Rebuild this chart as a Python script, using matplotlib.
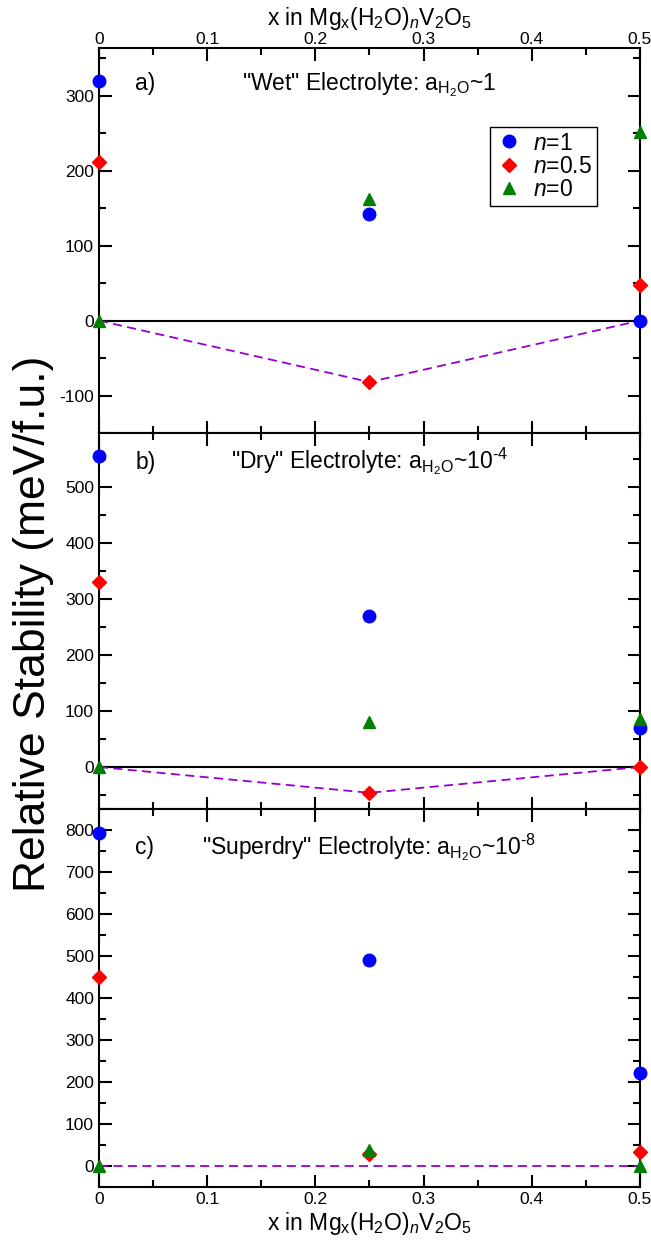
import numpy as np
import matplotlib
matplotlib.use("Agg")
import matplotlib.pyplot as plt
from matplotlib.ticker import MultipleLocator

plt.rcParams['font.family'] = ['Liberation Sans', 'DejaVu Sans']
plt.rcParams['mathtext.fontset'] = 'custom'
plt.rcParams['mathtext.rm'] = 'Liberation Sans'
plt.rcParams['mathtext.it'] = 'Liberation Sans:italic'
plt.rcParams['mathtext.default'] = 'regular'
plt.rcParams['axes.unicode_minus'] = False

# composition x
x_vals = [0.0, 0.25, 0.5]

# panel a) wet
wet_n1 = [320, 143, 0]
wet_n05 = [212, -82, 48]
wet_n0 = [0, 162, 252]
wet_hull = [0, -82, 0]

# panel b) dry
dry_n1 = [555, 270, 70]
dry_n05 = [330, -46, 0]
dry_n0 = [0, 80, 85]
dry_hull = [0, -46, 0]

# panel c) superdry
sdry_n1 = [793, 490, 222]
sdry_n05 = [450, 28, 33]
sdry_n0 = [0, 38, 0]
sdry_hull_x = [0.0, 0.5]
sdry_hull = [0, 0]

panels = [
    ("a)", '"Wet" Electrolyte: a$_{H_2O}$~1', wet_n1, wet_n05, wet_n0, x_vals, wet_hull, (-150, 364), True, 0.891),
    ("b)", '"Dry" Electrolyte: a$_{H_2O}$~10$^{\\text{-}4}$', dry_n1, dry_n05, dry_n0, x_vals, dry_hull, (-75, 596), True, 0.905),
    ("c)", '"Superdry" Electrolyte: a$_{H_2O}$~10$^{\\text{-}8}$', sdry_n1, sdry_n05, sdry_n0, sdry_hull_x, sdry_hull, (-50, 850), False, 0.88),
]

xlabel = 'x in Mg$_x$(H$_2$O)$_{\\mathit{n}}$V$_2$O$_5$'

fig = plt.figure(figsize=(6.51, 12.47), dpi=100)
tops = [0.9615, 0.6528, 0.3512]
bottoms = [0.6528, 0.3512, 0.0481]
left, right = 0.152, 0.983

for i, (tag, title, n1, n05, n0, hx, hull, ylim, zero_line, ty) in enumerate(panels):
    ax = fig.add_axes([left, bottoms[i], right - left, tops[i] - bottoms[i]])
    if zero_line:
        ax.axhline(0, color='black', linewidth=1.5, zorder=1)
    ax.plot(hx, hull, color='#9400d3', linestyle='--', dashes=(5, 3), linewidth=1.3, zorder=2)
    ax.plot(x_vals, n1, 'o', color='#0000ff', ms=9, label='$\\mathit{n}$=1', clip_on=False, zorder=3)
    ax.plot(x_vals, n05, 'D', color='#ff0000', ms=7.5, label='$\\mathit{n}$=0.5', clip_on=False, zorder=3)
    ax.plot(x_vals, n0, '^', color='#008000', ms=9, label='$\\mathit{n}$=0', clip_on=False, zorder=3)

    ax.set_xlim(0, 0.5)
    ax.set_ylim(*ylim)
    ax.xaxis.set_major_locator(MultipleLocator(0.1))
    ax.xaxis.set_minor_locator(MultipleLocator(0.05))
    ax.yaxis.set_major_locator(MultipleLocator(100))
    ax.yaxis.set_minor_locator(MultipleLocator(50))
    ax.tick_params(which='both', direction='in', top=True, right=True, width=1.5, labelsize=12.5)
    ax.tick_params(which='major', length=9)
    ax.tick_params(which='minor', length=5)
    for sp in ax.spines.values():
        sp.set_linewidth(1.5)

    if i == 0:
        ax.tick_params(labelbottom=False, labeltop=True)
        ax.tick_params(axis='x', pad=1)
        ax.xaxis.set_label_position('top')
        ax.set_xlabel(xlabel, fontsize=16.5, labelpad=5)
        ax.legend(loc='upper right', bbox_to_anchor=(0.92, 0.795), fontsize=16.5, frameon=True,
                  fancybox=False, edgecolor='black', handletextpad=0.4, borderpad=0.2,
                  labelspacing=0.02, handlelength=1.3, framealpha=1, borderaxespad=0)
    elif i == 1:
        ax.tick_params(labelbottom=False)
    else:
        ax.set_xlabel(xlabel, fontsize=16.5, labelpad=2)

    ax.xaxis.set_major_formatter(plt.FuncFormatter(lambda v, p: '0' if v == 0 else f'{v:g}'))
    ax.text(0.067, ty, tag, transform=ax.transAxes, fontsize=16.5, va='baseline')
    ax.text(0.5, ty, title, transform=ax.transAxes, fontsize=16.5, va='baseline', ha='center')

fig.text(0.052, 0.50, 'Relative Stability (meV/f.u.)', rotation=90, fontsize=32, va='center', ha='center')

fig.savefig('out.png', dpi=100)
